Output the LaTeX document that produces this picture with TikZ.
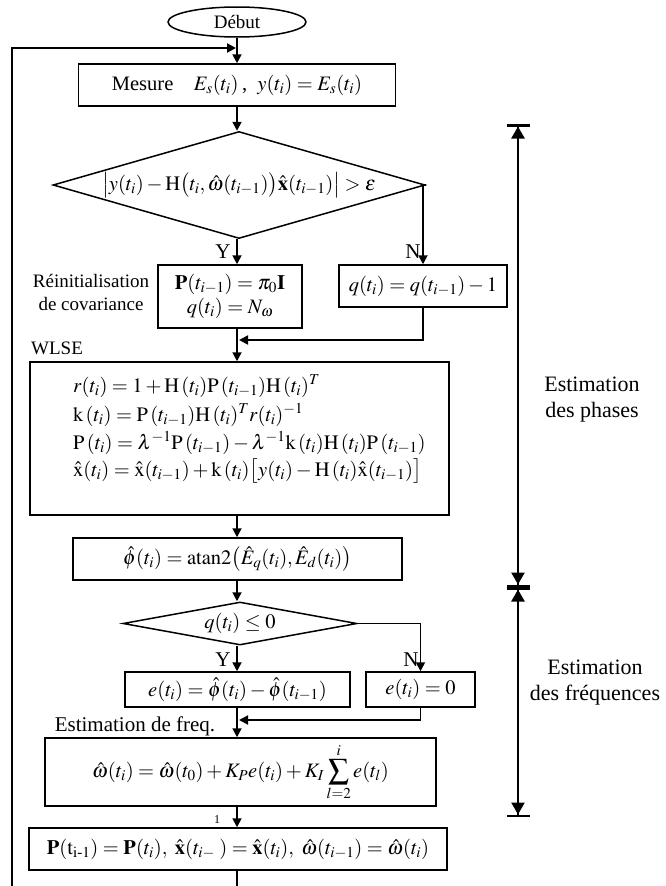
\documentclass[tikz,border=0pt]{standalone}
\usepackage{mathptmx}
\usepackage{amsmath}
\usepackage[no-math]{fontspec}
\setmainfont{Liberation Serif}
\usetikzlibrary{arrows.meta,shapes.geometric,positioning}
\newcommand\flowfont{\fontsize{20.5}{24}\selectfont}
\newcommand\notefont{\fontsize{19}{23}\selectfont}
\newcommand\sidefont{\fontsize{22}{26}\selectfont}
\tikzset{
    % flowchart boxes
    procbox/.style={
        rectangle, draw, line width=1.5pt,
        inner sep=2pt, font=\flowfont, align=center
    },
    startbox/.style={
        ellipse, draw, line width=1.5pt, inner sep=0pt,
        minimum width=138pt, minimum height=30pt, font=\notefont
    },
    testbox/.style={
        diamond, draw, line width=1.5pt, inner sep=0pt
    },
    testtext/.style={font=\flowfont, inner sep=0pt},
    % texts beside the boxes
    notelabel/.style={font=\notefont, align=center, inner sep=0pt},
    branchlabel/.style={font=\fontsize{21}{24}\selectfont, inner sep=0pt},
    partlabel/.style={font=\sidefont, align=center, inner sep=0pt},
    eqline/.style={font=\flowfont, inner sep=0pt, anchor=base west},
}
\tikzset{
    % connectors
    flow/.style={-{Triangle[length=9pt,width=9pt]}, line width=1.8pt},
    flowline/.style={line width=1.8pt},
    rangearrow/.style={{Bar[width=23pt]Triangle[length=12pt,width=13pt]}-{Triangle[length=12pt,width=13pt]Bar[width=23pt]},
                       line width=2.5pt},
}

\begin{document}
\begin{tikzpicture}[x=1pt,y=-1pt]
  \useasboundingbox (0,0) rectangle (666,886);
  % main chain of boxes
  \node[startbox] (debut) at (237,22) {Début};
  \node[procbox,minimum width=317pt,minimum height=42pt] (mesure) at (237,85)
       {Mesure\quad $E_s(t_i)$\,,\ \ $y(t_i)=E_s(t_i)$};
  \node[testbox,minimum width=372pt,minimum height=107pt] (test1) at (239,185) {};
  \node[testtext] (test1txt) at (test1)
       {$\left|y(t_i)-\mathrm{H}\bigl(t_i,\hat{\omega}(t_{i-1})\bigr)\hat{\mathbf{x}}(t_{i-1})\right|>\varepsilon$};
  \node[procbox,minimum width=144pt,minimum height=63pt] (reinit) at (230,296.5)
       {$\mathbf{P}(t_{i-1})=\pi_0\mathbf{I}$\\ $q(t_i)=N_\omega$};
  \node[procbox,minimum width=168pt,minimum height=42pt] (decr) at (423,286)
       {$q(t_i)=q(t_{i-1})-1$};
  \node[procbox,minimum width=419pt,minimum height=153pt] (wlse) at (239.5,438.5) {};
  % WLSE equations, one line each
  \node[eqline] (eqr) at (73,392) {$r(t_i)=1+\mathrm{H}\,(t_i)\mathrm{P}\,(t_{i-1})\mathrm{H}\,(t_i)^T$};
  \node[eqline] (eqk) at (73,421) {$\mathrm{k}\,(t_i)=\mathrm{P}\,(t_{i-1})\mathrm{H}\,(t_i)^T r(t_i)^{-1}$};
  \node[eqline] (eqp) at (73,449) {$\mathrm{P}\,(t_i)=\lambda^{-1}\mathrm{P}\,(t_{i-1})-\lambda^{-1}\mathrm{k}\,(t_i)\mathrm{H}\,(t_i)\mathrm{P}\,(t_{i-1})$};
  \node[eqline] (eqx) at (73,476) {$\hat{\mathrm{x}}(t_i)=\hat{\mathrm{x}}(t_{i-1})+\mathrm{k}\,(t_i)\bigl[y(t_i)-\mathrm{H}\,(t_i)\hat{\mathrm{x}}(t_{i-1})\bigr]$};
  \node[procbox,minimum width=329pt,minimum height=42pt] (phase) at (237.5,559)
       {$\hat{\phi}(t_i)=\mathrm{atan2}\bigl(\hat{E}_q(t_i),\hat{E}_d(t_i)\bigr)$};
  \node[testbox,minimum width=234pt,minimum height=43pt] (test2) at (240,623.5) {};
  \node[testtext] (test2txt) at (test2) {$q(t_i)\le 0$};
  \node[procbox,minimum width=225pt,minimum height=35pt] (err) at (237.5,689.5)
       {$e(t_i)=\hat{\phi}(t_i)-\hat{\phi}(t_{i-1})$};
  \node[procbox,minimum width=109pt,minimum height=35pt] (zero) at (420.5,689.5)
       {$e(t_i)=0$};
  \node[procbox,minimum width=391pt,minimum height=68pt] (freq) at (240.5,772)
       {$\hat{\omega}(t_i)=\hat{\omega}(t_0)+K_P e(t_i)+K_I\displaystyle\sum_{l=2}^{i}e(t_l)$};
  \node[procbox,minimum width=418pt,minimum height=42pt] (update) at (238,849)
       {$\mathbf{P}(\mathrm{t}_{\mathrm{i\text{-}1}})=\mathbf{P}(t_i),\ \hat{\mathbf{x}}(t_{i-}\;)=\hat{\mathbf{x}}(t_i),\ \hat{\omega}(t_{i-1})=\hat{\omega}(t_i)$};

  % texts beside the boxes
  \node[notelabel] (reinitlab) at (91,292) {Réinitialisation\\de covariance};
  \node[notelabel] (wlselab) at (57,348) {WLSE};
  \node[notelabel,font=\fontsize{21}{24}\selectfont] (freqlab) at (135,726) {Estimation de freq.};
  \node[branchlabel] (y1) at (223,252) {Y};
  \node[branchlabel] (n1) at (413,252) {N};
  \node[branchlabel] (y2) at (223,660) {Y};
  \node[branchlabel] (n2) at (411,660) {N};
  \node[font=\fontsize{12}{14}\selectfont] (one) at (217,820) {1};

  % joins and loop ends
  \coordinate (join1) at (239,340);
  \coordinate (join2) at (239,720);
  \coordinate (loopbot) at (12,886);
  \coordinate (looptop) at (12,48);
  \coordinate (spinebot) at (237,886);

  % connectors
  \draw[flow] (debut) -- (mesure);
  \draw[flow] (mesure.south) -- (mesure.south |- test1.north);
  \draw[flow] (mesure.south |- test1.south) -- (mesure.south |- reinit.north);
  \draw[flow] (test1.east) -| (decr.north);
  \draw[flow] (mesure.south |- reinit.south) -- (mesure.south |- wlse.north);
  \draw[flow] (decr.south) |- (join1);
  \draw[flow] (mesure.south |- wlse.south) -- (mesure.south |- phase.north);
  \draw[flow] (mesure.south |- phase.south) -- (mesure.south |- test2.north);
  \draw[flow] (mesure.south |- test2.south) -- (mesure.south |- err.north);
  \draw[flow] (test2.east) -| (zero.north);
  \draw[flow] (mesure.south |- err.south) -- (mesure.south |- freq.north);
  \draw[flow] (zero.south) |- (join2);
  \draw[flow] (mesure.south |- freq.south) -- (mesure.south |- update.north);
  \draw[flowline] (mesure.south |- update.south) -- (spinebot);
  \draw[flow,line width=2.5pt] (loopbot) -- (looptop) -- ([xshift=-1pt]debut.south |- looptop);

  % phases / frequencies ranges
  \coordinate (phtop) at (518,124);
  \coordinate (phmid) at (518,587);
  \coordinate (frbot) at (518,817);
  \draw[rangearrow] (phtop) -- (phmid);
  \draw[rangearrow] (phmid) -- (frbot);
  \node[partlabel] (phlab) at (592,400) {Estimation\\des phases};
  \node[partlabel] (frlab) at (595,683) {Estimation\\des fréquences};
\end{tikzpicture}
\end{document}
